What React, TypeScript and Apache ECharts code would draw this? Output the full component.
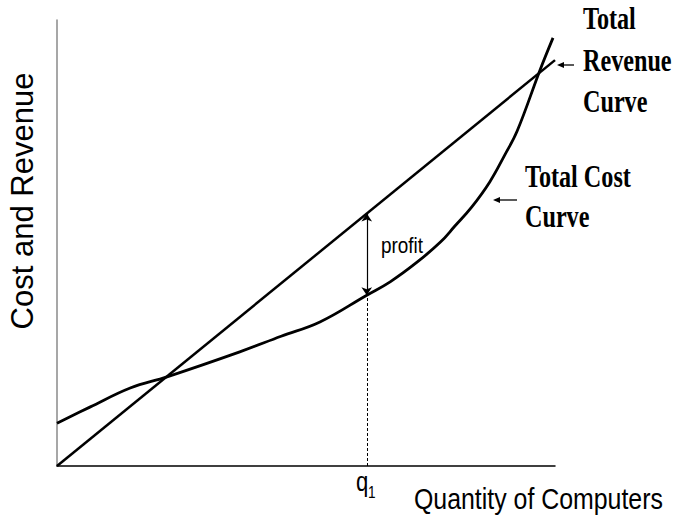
import React, { useEffect, useRef } from "react";
import * as echarts from "echarts";

// Quantity values (x) and the cost / revenue read at them
const quantity = [0, 0.66, 1.47, 2.21, 3.67, 4.5, 5.28, 6.22, 6.69, 7.23, 7.7, 7.99, 8.33, 8.69, 8.99, 9.24, 9.7, 9.96];
const totalCost = [0.96, 1.32, 1.75, 2.0, 2.56, 2.91, 3.23, 3.83, 4.13, 4.57, 5.02, 5.38, 5.81, 6.37, 6.97, 7.51, 8.88, 9.6];
const revenueQuantity = [0, 10];
const totalRevenue = [0, 9.1];
const q1Index = 7; // quantity[7] is q1

const xTitle = "Quantity of Computers";
const yTitle = "Cost and Revenue";

export default function App() {
  const ref = useRef<HTMLDivElement>(null);
  useEffect(() => {
    if (!ref.current) return;
    const chart = echarts.init(ref.current, null, { renderer: "svg" });
    const costData = quantity.map((q, i) => [q, totalCost[i]]);
    const revData = revenueQuantity.map((q, i) => [q, totalRevenue[i]]);
    const q1 = quantity[q1Index];
    const revSlope = (totalRevenue[1] - totalRevenue[0]) / (revenueQuantity[1] - revenueQuantity[0]);
    const revAtQ1 = totalRevenue[0] + revSlope * (q1 - revenueQuantity[0]);
    const costAtQ1 = totalCost[q1Index];

    const sans = '"Liberation Sans", Arial, sans-serif';
    const serif = '"Liberation Serif", "Times New Roman", serif';

    const labelText = (text: string, x: number, baseline: number, size: number, opts: any = {}) => ({
      type: "text",
      x,
      y: baseline - 0.34 * size,
      scaleX: opts.scaleX ?? 1,
      silent: true,
      style: {
        text,
        font: `${opts.weight ?? "normal"} ${size}px ${opts.family ?? sans}`,
        fill: "#000",
        align: "left",
        verticalAlign: "middle",
      },
    });

    const arrow = (x1: number, x2: number, y: number) => [
      { type: "line", silent: true, shape: { x1, y1: y, x2: x2 + 4, y2: y }, style: { stroke: "#000", lineWidth: 1.3 } },
      { type: "polygon", silent: true, shape: { points: [[x2, y], [x2 + 7, y - 3], [x2 + 7, y + 3]] }, style: { fill: "#000" } },
    ];

    chart.setOption({
      animation: false,
      backgroundColor: "#fff",
      grid: { left: 57, right: 121, top: 20, bottom: 58 },
      xAxis: {
        type: "value",
        min: 0,
        max: 10,
        axisLine: { show: true, lineStyle: { color: "#000", width: 1.5 } },
        axisTick: { show: false },
        axisLabel: { show: false },
        splitLine: { show: false },
      },
      yAxis: {
        type: "value",
        min: 0,
        max: 10,
        axisLine: { show: true, lineStyle: { color: "#8a8a8a", width: 1.5 } },
        axisTick: { show: false },
        axisLabel: { show: false },
        splitLine: { show: false },
      },
      series: [
        {
          name: "Total Revenue",
          type: "line",
          data: revData,
          showSymbol: false,
          silent: true,
          lineStyle: { color: "#000", width: 2.5 },
        },
        {
          name: "Total Cost",
          type: "line",
          data: costData,
          smooth: 0.4,
          showSymbol: false,
          silent: true,
          lineStyle: { color: "#000", width: 2.8 },
          markLine: {
            silent: true,
            animation: false,
            label: { show: false },
            data: [
              [
                { coord: [q1, revAtQ1], symbol: "arrow", symbolSize: 8, lineStyle: { color: "#000", width: 1.2, type: "solid" } },
                { coord: [q1, costAtQ1], symbol: "arrow", symbolSize: 8 },
              ],
              [
                { coord: [q1, 0], symbol: "none", lineStyle: { color: "#000", width: 1, type: [3, 2] } },
                { coord: [q1, costAtQ1], symbol: "none" },
              ],
            ],
          },
        },
      ],
      graphic: [
        {
          type: "text",
          x: 22,
          y: 201,
          rotation: Math.PI / 2,
          silent: true,
          style: {
            text: yTitle,
            font: `31px ${sans}`,
            fill: "#000",
            align: "center",
            verticalAlign: "middle",
          },
        },
        labelText(xTitle, 414, 509, 30, { scaleX: 0.83 }),
        labelText("q", 356, 491, 27, { scaleX: 0.82 }),
        labelText("1", 368, 498, 16, { scaleX: 0.85 }),
        labelText("profit", 381, 252, 22, { scaleX: 0.86 }),
        labelText("Total", 583, 29, 31, { scaleX: 0.78, weight: "bold", family: serif }),
        labelText("Revenue", 583, 71, 31, { scaleX: 0.78, weight: "bold", family: serif }),
        labelText("Curve", 583, 112, 31, { scaleX: 0.78, weight: "bold", family: serif }),
        labelText("Total Cost", 525, 187, 31, { scaleX: 0.78, weight: "bold", family: serif }),
        labelText("Curve", 525, 227, 31, { scaleX: 0.78, weight: "bold", family: serif }),
        ...arrow(574, 557, 65),
        ...arrow(517, 493, 200),
      ],
    });
    return () => chart.dispose();
  }, []);
  return <div ref={ref} style={{ position: "absolute", left: 0, top: 0, width: 676, height: 524 }} />;
}
